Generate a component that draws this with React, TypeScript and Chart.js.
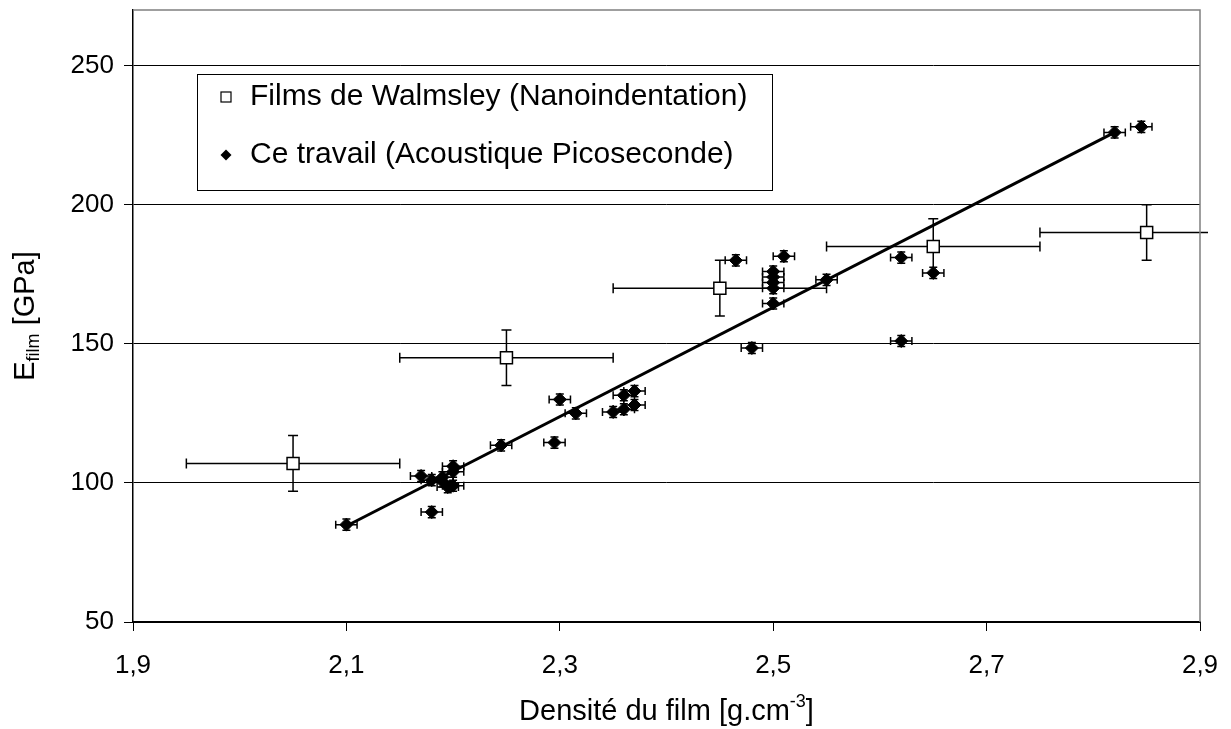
import React, { useEffect, useRef } from "react";
import { Chart, registerables } from "chart.js";

Chart.register(...registerables);

// ---- Data ----
const xTickValues = [1.9, 2.1, 2.3, 2.5, 2.7, 2.9];
const yTickValues = [50, 100, 150, 200, 250];

const walmsleyLabel = "Films de Walmsley (Nanoindentation)";
const walmsleyDensity = [2.05, 2.25, 2.45, 2.65, 2.85];
const walmsleyModulus = [107, 145, 170, 185, 190];
const walmsleyDensityErr = [0.1, 0.1, 0.1, 0.1, 0.1];
const walmsleyModulusErr = [10, 10, 10, 10, 10];

const travailLabel = "Ce travail (Acoustique Picoseconde)";
const travailDensity = [
  2.1, 2.18, 2.17, 2.18, 2.19, 2.19, 2.195, 2.2, 2.2, 2.2, 2.245, 2.295, 2.3,
  2.315, 2.35, 2.36, 2.37, 2.36, 2.37, 2.465, 2.48, 2.5, 2.5, 2.5, 2.5, 2.5,
  2.51, 2.55, 2.62, 2.62, 2.65, 2.82, 2.845,
];
const travailModulus = [
  85, 89.5, 102.5, 101, 100.5, 102, 98.5, 99, 104, 106, 113.5, 114.5, 130,
  125, 125.5, 126.5, 128, 131.5, 133, 180, 148.5, 176, 174, 172, 170, 164.5,
  181.5, 173, 181, 151, 175.5, 226, 228,
];
const travailDensityErr = travailDensity.map(() => 0.01);
const travailModulusErr = travailDensity.map(() => 2);

const trendDensity = [2.1, 2.82];
const trendModulus = [84.5, 226];

const xTitleMain = "Densité du film [g.cm";
const xTitleSup = "-3";
const xTitleEnd = "]";
const yTitleMain = "E";
const yTitleSub = "film";
const yTitleEnd = " [GPa]";

const FONT = '"Liberation Sans", Arial, Helvetica, sans-serif';

const errorBarPlugin = {
  id: "errorBars",
  beforeDatasetsDraw(chart: any) {
    const { ctx, chartArea } = chart;
    const xs = chart.scales.x;
    const ys = chart.scales.y;
    ctx.save();
    ctx.beginPath();
    ctx.rect(
      chartArea.left,
      chartArea.top,
      chartArea.right - chartArea.left + 8,
      chartArea.bottom - chartArea.top
    );
    ctx.clip();
    chart.data.datasets.forEach((ds: any) => {
      if (!ds.errorX) return;
      ctx.strokeStyle = "#000";
      ctx.lineWidth = ds.errorLineWidth;
      const c = ds.errorCap;
      ds.data.forEach((p: any, j: number) => {
        const ex = ds.errorX[j];
        const ey = ds.errorY[j];
        const px = xs.getPixelForValue(p.x);
        const py = ys.getPixelForValue(p.y);
        const x0 = xs.getPixelForValue(p.x - ex);
        const x1 = xs.getPixelForValue(p.x + ex);
        const y0 = ys.getPixelForValue(p.y - ey);
        const y1 = ys.getPixelForValue(p.y + ey);
        ctx.beginPath();
        ctx.moveTo(x0, py);
        ctx.lineTo(x1, py);
        ctx.moveTo(x0, py - c);
        ctx.lineTo(x0, py + c);
        ctx.moveTo(x1, py - c);
        ctx.lineTo(x1, py + c);
        ctx.moveTo(px, y0);
        ctx.lineTo(px, y1);
        ctx.moveTo(px - c, y0);
        ctx.lineTo(px + c, y0);
        ctx.moveTo(px - c, y1);
        ctx.lineTo(px + c, y1);
        ctx.stroke();
      });
    });
    ctx.restore();
  },
};

const decorPlugin = {
  id: "decor",
  afterDraw(chart: any) {
    const { ctx, chartArea } = chart;
    ctx.save();
    // top and right frame
    ctx.strokeStyle = "#808080";
    ctx.lineWidth = 1.5;
    ctx.beginPath();
    ctx.moveTo(chartArea.left, chartArea.top);
    ctx.lineTo(chartArea.right, chartArea.top);
    ctx.lineTo(chartArea.right, chartArea.bottom);
    ctx.stroke();

    // legend
    const bx = chartArea.left + 64;
    const by = chartArea.top + 64;
    const bw = 575;
    const bh = 116;
    ctx.fillStyle = "#fff";
    ctx.fillRect(bx, by, bw, bh);
    ctx.strokeStyle = "#000";
    ctx.lineWidth = 1;
    ctx.strokeRect(bx + 0.5, by + 0.5, bw, bh);
    const ds = chart.data.datasets;
    ctx.font = `30px ${FONT}`;
    ctx.textBaseline = "middle";
    ctx.textAlign = "left";
    const r1 = by + 23;
    const r2 = by + 81;
    const mx = bx + 29;
    // square marker
    ctx.lineWidth = 1.2;
    ctx.fillStyle = "#fff";
    ctx.fillRect(mx - 5, r1 - 5, 10, 10);
    ctx.strokeRect(mx - 5, r1 - 5, 10, 10);
    // diamond marker
    ctx.fillStyle = "#000";
    ctx.beginPath();
    ctx.moveTo(mx - 5.5, r2);
    ctx.lineTo(mx, r2 - 5.5);
    ctx.lineTo(mx + 5.5, r2);
    ctx.lineTo(mx, r2 + 5.5);
    ctx.closePath();
    ctx.fill();
    ctx.fillText(ds[0].label, bx + 53, r1);
    ctx.fillText(ds[1].label, bx + 53, r2);

    // x title
    const cx = (chartArea.left + chartArea.right) / 2;
    const base = 720;
    ctx.textBaseline = "alphabetic";
    ctx.font = `29px ${FONT}`;
    const w1 = ctx.measureText(xTitleMain).width;
    const w3 = ctx.measureText(xTitleEnd).width;
    ctx.font = `18px ${FONT}`;
    const w2 = ctx.measureText(xTitleSup).width;
    let sx = cx - (w1 + w2 + w3) / 2;
    ctx.font = `29px ${FONT}`;
    ctx.fillText(xTitleMain, sx, base);
    sx += w1;
    ctx.font = `18px ${FONT}`;
    ctx.fillText(xTitleSup, sx, base - 13);
    sx += w2;
    ctx.font = `29px ${FONT}`;
    ctx.fillText(xTitleEnd, sx, base);

    // y title (rotated)
    const cy = (chartArea.top + chartArea.bottom) / 2;
    ctx.save();
    ctx.translate(34, cy);
    ctx.rotate(-Math.PI / 2);
    ctx.font = `29px ${FONT}`;
    const e1 = ctx.measureText(yTitleMain).width;
    const e3 = ctx.measureText(yTitleEnd).width;
    ctx.font = `18px ${FONT}`;
    const e2 = ctx.measureText(yTitleSub).width;
    let ex = -(e1 + e2 + e3) / 2;
    ctx.font = `29px ${FONT}`;
    ctx.fillText(yTitleMain, ex, 0);
    ex += e1;
    ctx.font = `18px ${FONT}`;
    ctx.fillText(yTitleSub, ex, 5);
    ex += e2;
    ctx.font = `29px ${FONT}`;
    ctx.fillText(yTitleEnd, ex, 0);
    ctx.restore();

    ctx.restore();
  },
};

const zeroPadding = (s: any) => {
  s.paddingTop = 0;
  s.paddingBottom = 0;
  s.paddingLeft = 0;
  s.paddingRight = 0;
};

export default function App() {
  const canvasRef = useRef<HTMLCanvasElement | null>(null);

  useEffect(() => {
    document.body.style.margin = "0";
    const canvas = canvasRef.current;
    if (!canvas) return;

    const chart = new Chart(canvas, {
      type: "scatter",
      data: {
        datasets: [
          {
            label: walmsleyLabel,
            data: walmsleyDensity.map((x, i) => ({ x, y: walmsleyModulus[i] })),
            pointStyle: "rect",
            pointRadius: 8.5,
            pointHoverRadius: 8.5,
            backgroundColor: "#fff",
            borderColor: "#000",
            borderWidth: 1.5,
            errorX: walmsleyDensityErr,
            errorY: walmsleyModulusErr,
            errorLineWidth: 1.5,
            errorCap: 5,
          } as any,
          {
            label: travailLabel,
            data: travailDensity.map((x, i) => ({ x, y: travailModulus[i] })),
            pointStyle: "rectRot",
            pointRadius: 6.5,
            pointHoverRadius: 6.5,
            backgroundColor: "#000",
            borderColor: "#000",
            borderWidth: 1,
            errorX: travailDensityErr,
            errorY: travailModulusErr,
            errorLineWidth: 1.5,
            errorCap: 4,
          } as any,
          {
            label: "trend",
            data: trendDensity.map((x, i) => ({ x, y: trendModulus[i] })),
            showLine: true,
            pointRadius: 0,
            borderColor: "#000",
            borderWidth: 3,
            backgroundColor: "#000",
          } as any,
        ],
      },
      options: {
        animation: false,
        responsive: false,
        events: [],
        layout: { padding: { top: 10, right: 31, left: 0, bottom: 0 } },
        plugins: {
          legend: { display: false },
          tooltip: { enabled: false },
        },
        scales: {
          x: {
            type: "linear",
            min: 1.9,
            max: 2.9,
            afterBuildTicks: (axis: any) => {
              axis.ticks = xTickValues.map((v) => ({ value: v }));
            },
            afterFit: (s: any) => {
              s.height = 107;
              zeroPadding(s);
            },
            grid: {
              drawOnChartArea: false,
              drawTicks: true,
              tickLength: 9,
              color: "#000",
              lineWidth: 1,
            },
            border: { color: "#000", width: 2 },
            ticks: {
              color: "#000",
              padding: 19,
              maxRotation: 0,
              autoSkip: false,
              font: { family: FONT, size: 26 },
              callback: (v: any) => Number(v).toFixed(1).replace(".", ","),
            },
          },
          y: {
            type: "linear",
            min: 50,
            max: 270,
            afterBuildTicks: (axis: any) => {
              axis.ticks = yTickValues.map((v) => ({ value: v }));
            },
            afterFit: (s: any) => {
              s.width = 133;
              zeroPadding(s);
            },
            grid: {
              drawTicks: true,
              tickLength: 9,
              color: "#000",
              lineWidth: 1,
            },
            border: { color: "#000", width: 1.5 },
            ticks: {
              color: "#000",
              padding: 10,
              autoSkip: false,
              font: { family: FONT, size: 26 },
              callback: (v: any) => String(v),
            },
          },
        },
      },
      plugins: [errorBarPlugin, decorPlugin],
    });

    return () => chart.destroy();
  }, []);

  return (
    <div style={{ width: 1231, height: 729, background: "#fff" }}>
      <canvas ref={canvasRef} width={1231} height={729} />
    </div>
  );
}
